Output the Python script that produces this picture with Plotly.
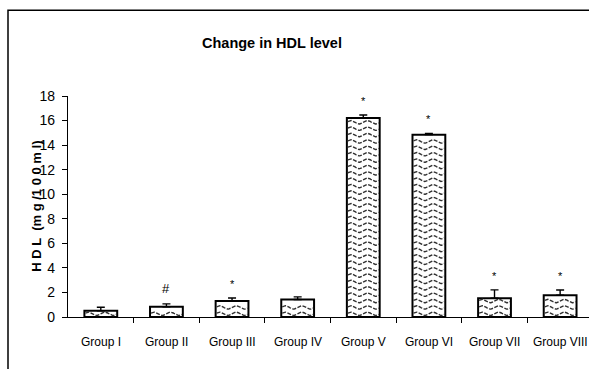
import numpy as np
import plotly.graph_objects as go

# HDL change per treatment group (mg/100ml), mean and upper error
groups = ["Group I", "Group II", "Group III", "Group IV",
          "Group V", "Group VI", "Group VII", "Group VIII"]
hdl_mean = [0.5, 0.83, 1.3, 1.42, 16.2, 14.85, 1.53, 1.77]
hdl_err = [0.3, 0.24, 0.25, 0.22, 0.25, 0.09, 0.68, 0.43]
sig_marks = ["", "#", "*", "", "*", "*", "*", "*"]

FONT = "Liberation Sans, Arial, sans-serif"
pos = np.arange(len(groups))
bar_w = 0.5

# paper-coordinate helper for pixel rows (plot area spans y 96..317.5 px)
def py(px):
    return (317.5 - px) / 221.5

def pxx(px):
    return (px - 68) / 521

fig = go.Figure()

# white bar bodies
fig.add_trace(go.Bar(x=pos, y=hdl_mean, width=bar_w,
                     marker=dict(color="white", line=dict(width=0)),
                     hoverinfo="skip", showlegend=False))

# wavy hatch inside each bar
wx, wy = [], []
row_gap, amp, period = 0.52, 0.14, 0.25
for p, v in zip(pos, hdl_mean):
    xs = np.linspace(p - bar_w / 2 + 0.015, p + bar_w / 2 - 0.015, 48)
    y0 = row_gap / 2
    while y0 + amp < v - 0.03:
        wx.extend(list(xs) + [None])
        wy.extend(list(y0 + amp * np.sin(2 * np.pi * (xs - p) / period)) + [None])
        y0 += row_gap
fig.add_trace(go.Scatter(x=wx, y=wy, mode="lines",
                         line=dict(color="#303030", width=1.4, dash="4px,1.5px"),
                         hoverinfo="skip", showlegend=False))

# outlines and upper error bars
fig.add_trace(go.Bar(x=pos, y=hdl_mean, width=bar_w,
                     marker=dict(color="rgba(0,0,0,0)", line=dict(color="black", width=2)),
                     error_y=dict(type="data", array=hdl_err, arrayminus=[0] * len(groups),
                                  symmetric=False, color="black", thickness=1.4, width=4),
                     hoverinfo="skip", showlegend=False))

# invisible trace on the second x axis for the between-category ticks
fig.add_trace(go.Scatter(x=[0], y=[0], xaxis="x2", mode="markers",
                         marker=dict(opacity=0), hoverinfo="skip", showlegend=False))

annotations = []
for p, v, e, m in zip(pos, hdl_mean, hdl_err, sig_marks):
    if m:
        annotations.append(dict(x=p, y=v + e + 0.5, text=m, showarrow=False,
                                yanchor="bottom", xref="x", yref="y",
                                font=dict(family=FONT, size=13 if m == "#" else 11, color="black")))

# category labels below the axis
for p, g in zip(pos, groups):
    annotations.append(dict(x=p, y=py(343), xref="x", yref="paper",
                            text=g, showarrow=False, yanchor="middle",
                            font=dict(family=FONT, size=12, color="black")))

annotations.append(dict(text="<b>Change in HDL level</b>", xref="paper", yref="paper",
                        x=pxx(272), y=py(43), showarrow=False,
                        xanchor="center", yanchor="middle",
                        font=dict(family=FONT, size=14.5, color="black")))
annotations.append(dict(text="<b>H D L  (m g /1 0 0 m l)</b>", xref="paper", yref="paper",
                        x=pxx(37), y=py(207), showarrow=False,
                        textangle=-90, xanchor="center", yanchor="middle",
                        font=dict(family=FONT, size=13, color="black")))

xrange = [-0.5, 7.44]
fig.update_layout(
    width=589, height=369,
    margin=dict(l=68, r=0, t=96, b=52),
    paper_bgcolor="white", plot_bgcolor="white",
    barmode="overlay",
    font=dict(family=FONT, color="black"),
    xaxis=dict(range=xrange, tickvals=list(pos), showticklabels=False, ticks="",
               showline=True, linecolor="black", linewidth=1.3, showgrid=False,
               zeroline=False),
    xaxis2=dict(range=xrange, overlaying="x", side="bottom", anchor="y",
                tickvals=list(pos[:-1] + 0.5), ticks="outside", ticklen=5,
                tickcolor="black", tickwidth=1.3, showticklabels=False,
                showgrid=False, zeroline=False, showline=False),
    yaxis=dict(range=[0, 18], dtick=2, ticks="outside", ticklen=5, tickcolor="black",
               tickwidth=1.3, showline=True, linecolor="black", linewidth=1.3,
               showgrid=False, zeroline=False, ticklabelstandoff=4,
               tickfont=dict(family=FONT, size=14, color="black")),
    annotations=annotations,
    shapes=[dict(type="rect", xref="paper", yref="paper",
                 x0=pxx(8), x1=1.05, y0=-0.4, y1=py(10),
                 line=dict(color="black", width=1.5), fillcolor="rgba(0,0,0,0)",
                 layer="below")],
)

fig.write_html("out.html")
